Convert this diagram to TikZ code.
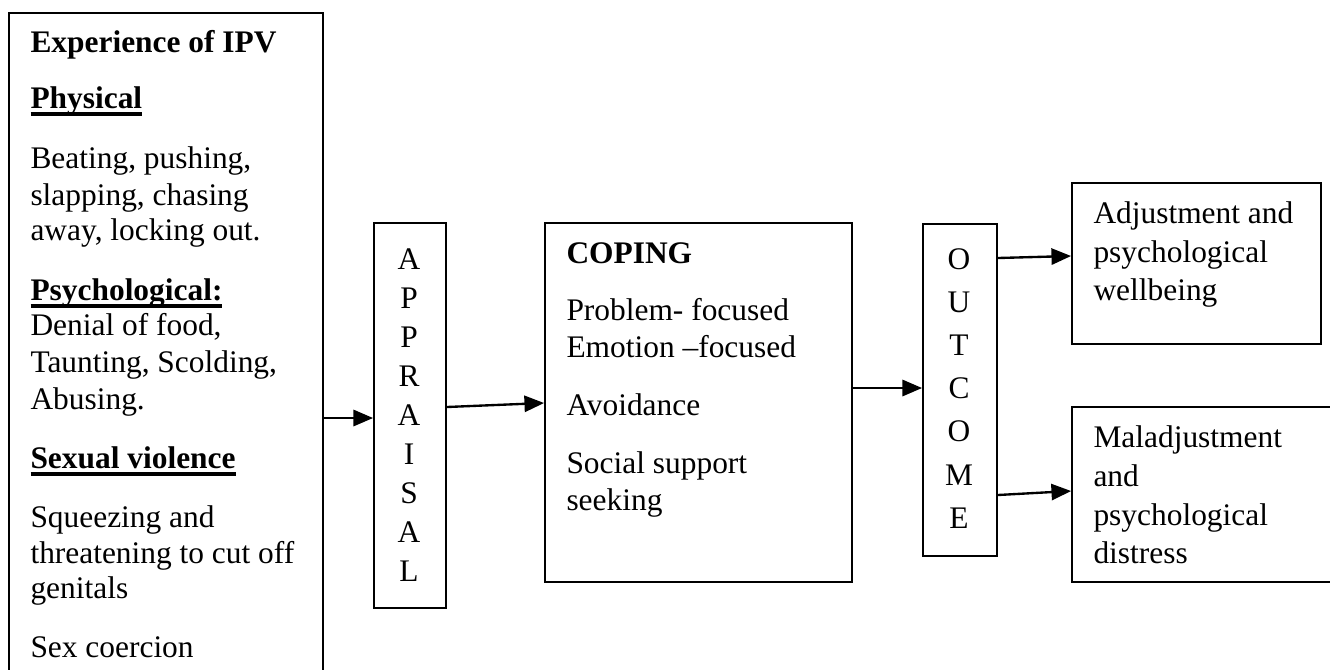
\documentclass[tikz,border=0pt]{standalone}
\usepackage{fontspec}
\setmainfont{Liberation Serif}
\usetikzlibrary{arrows.meta,fit}
\newcommand{\myul}[1]{\setbox0\hbox{#1}\rlap{\raisebox{-2.9pt}{\rule{\wd0}{1.2pt}}}\box0}
\begin{document}
\begin{tikzpicture}[x=0.382pt,y=-0.382pt,
  box/.style={draw, line width=0.7pt, inner sep=0pt},
  txt/.style={anchor=base west, inner sep=0pt, font=\fontsize{12}{14}\selectfont},
  ltr/.style={anchor=base, inner sep=0pt, font=\fontsize{12}{14}\selectfont},
  arr/.style={-{Triangle[length=7.5pt,width=6.2pt]}, line width=0.9pt}]
\useasboundingbox (0,0) rectangle (1330,669);
\begin{scope}
\clip (0,0) rectangle (1330,669);
% boxes
\node[box, fit={(9,13) (323,720)}] (exp) {};
\node[box, fit={(374,223) (446,608)}] (appr) {};
\node[box, fit={(545,223) (852,582)}] (cop) {};
\node[box, fit={(923,224) (997,556)}] (out) {};
\node[box, fit={(1072,183) (1321,344)}] (adj) {};
\node[box, fit={(1072,407) (1345,582)}] (mal) {};
\end{scope}
% left box text
\node[txt] (e1) at (30,52) {\textbf{Experience of IPV}};
\node[txt] (e2) at (30,108) {\textbf{\myul{Physical}}};
\node[txt] (e3) at (30,168) {Beating, pushing,};
\node[txt] (e4) at (30,205) {slapping, chasing};
\node[txt] (e5) at (30,240) {away, locking out.};
\node[txt] (e6) at (30,300) {\textbf{\myul{Psychological:}}};
\node[txt] (e7) at (30,335) {Denial of food,};
\node[txt] (e8) at (30,372) {Taunting, Scolding,};
\node[txt] (e9) at (30,409) {Abusing.};
\node[txt] (e10) at (30,468) {\textbf{\myul{Sexual violence}}};
\node[txt] (e11) at (30,527) {Squeezing and};
\node[txt] (e12) at (30,563) {threatening to cut off};
\node[txt] (e13) at (30,598) {genitals};
\node[txt] (e14) at (30,657) {Sex coercion};
% appraisal letters
\foreach \l [count=\i from 0] in {A,P,P,R,A,I,S,A,L}
  \node[ltr] (a\i) at (409,{269+39*\i}) {\l};
% coping text
\node[txt] (c1) at (566,263) {\textbf{COPING}};
\node[txt] (c2) at (566,320) {Problem- focused};
\node[txt] (c3) at (566,357) {Emotion –focused};
\node[txt] (c4) at (566,415) {Avoidance};
\node[txt] (c5) at (566,473) {Social support};
\node[txt] (c6) at (566,510) {seeking};
% outcome letters
\foreach \l [count=\i from 0] in {O,U,T,C,O,M,E}
  \node[ltr] (o\i) at (959,{269+43.2*\i}) {\l};
% right boxes text
\node[txt] (r1) at (1093,223) {Adjustment and};
\node[txt] (r2) at (1093,262) {psychological};
\node[txt] (r3) at (1093,300) {wellbeing};
\node[txt] (m1) at (1093,447) {Maladjustment};
\node[txt] (m2) at (1093,486) {and};
\node[txt] (m3) at (1093,525) {psychological};
\node[txt] (m4) at (1093,563) {distress};
% arrow heights
\coordinate (y1) at (0,418);
\coordinate (y2a) at (0,407);
\coordinate (y2b) at (0,403);
\coordinate (y3) at (0,388);
\coordinate (y4a) at (0,258);
\coordinate (y4b) at (0,256);
\coordinate (y5a) at (0,495);
\coordinate (y5b) at (0,491);
\draw[arr] (exp.east |- y1) -- (appr.west |- y1);
\draw[arr] (appr.east |- y2a) -- (cop.west |- y2b);
\draw[arr] (cop.east |- y3) -- (out.west |- y3);
\draw[arr] (out.east |- y4a) -- (adj.west |- y4b);
\draw[arr] (out.east |- y5a) -- (mal.west |- y5b);
\end{tikzpicture}
\end{document}
